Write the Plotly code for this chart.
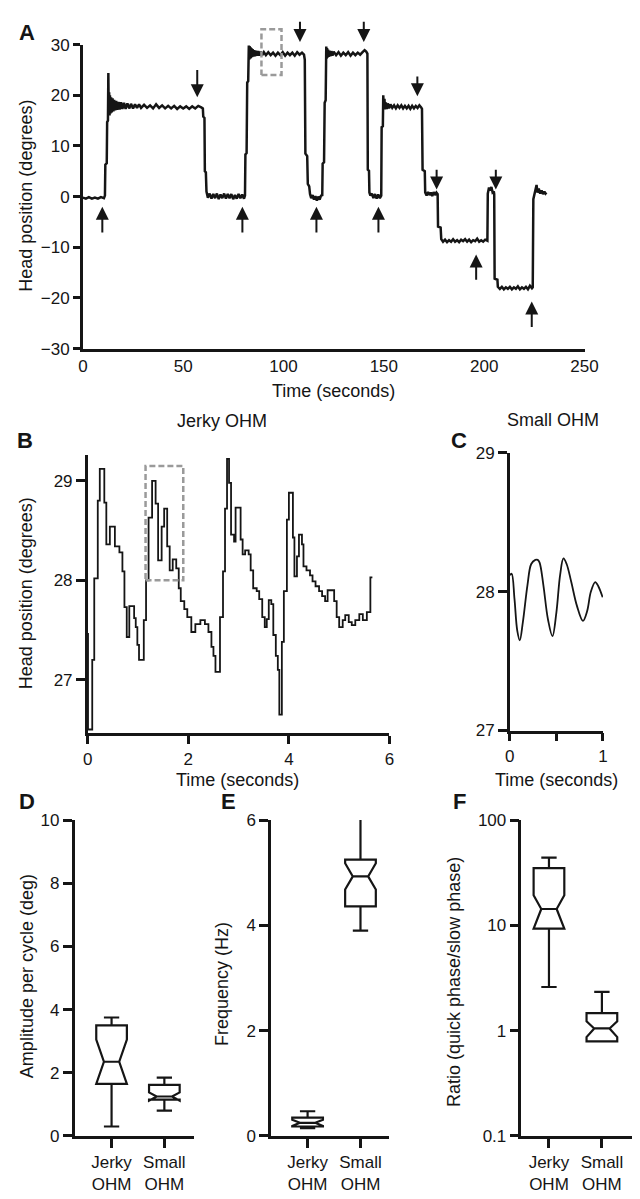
import plotly.graph_objects as go

W, H = 640, 1199

# ---------------- DATA ----------------
# Panel A: head position trace (time s, degrees)
a_t = [0, 1.5, 3, 4.5, 6, 7.5, 9, 10.5, 11.0,
       11.2, 11.9, 12.1, 12.5, 12.7, 12.9, 13.1, 13.3, 13.5, 13.8, 14.1, 14.4, 14.8, 15.2, 15.6, 16.1, 16.6, 17.1,
       17.7, 18.3, 19.0, 19.7, 20.5, 21.3, 22.2, 23.1, 24.0, 25.0, 26.0, 27.0, 28.0, 29.0,
       30.5, 32, 33.5, 35, 36.5, 38, 39.5, 41, 42.5, 44, 45.5, 47, 48.5, 50, 51.5, 53, 54.5, 56, 57.5, 59.0, 59.8,
       60.0, 60.6, 60.8, 61.3, 61.6,
       62.3, 63.2, 64.1, 65.0, 65.9, 66.8, 67.7, 68.6, 69.5, 70.4, 71.3, 72.2, 73.1, 74.0, 74.9, 75.8, 76.7, 77.6,
       78.5, 79.4, 80.3, 80.8,
       81.0, 81.6, 81.9, 82.4, 82.7, 82.9, 83.1, 83.3, 83.5, 83.7, 84.0, 84.3, 84.6, 85.0, 85.4, 85.8, 86.3, 86.8,
       87.4, 88.0, 88.7, 89.4, 90.2,
       91.2, 92.4, 93.6, 94.8, 96.0, 97.2, 98.4, 99.6, 100.8, 102.0, 103.2, 104.4, 105.6, 106.8, 108.0, 109.2, 110.2,
       110.6, 110.9, 111.8, 112.1, 112.8, 113.2,
       113.8, 114.5, 115.2, 115.9, 116.6, 117.3, 118.0, 118.7, 119.3,
       119.5, 120.2, 120.5, 121.0, 121.3, 121.5, 121.7, 121.9, 122.2, 122.5, 122.9, 123.3, 123.8, 124.4, 125.0,
       126.2, 127.4, 128.6, 129.8, 131.0, 132.2, 133.4, 134.6, 135.8, 137.0, 138.2, 139.4, 140.4, 141.2, 141.8,
       142.0, 142.6, 142.8, 143.3,
       144.0, 144.8, 145.6, 146.4, 147.2, 148.0, 148.7,
       148.9, 149.5, 149.7, 150.0, 150.3, 150.6, 151.0, 151.5, 152.0, 152.6, 153.3,
       154.2, 155.1, 156.0, 156.9, 157.8, 158.7, 159.6, 160.5, 161.4, 162.3, 163.2, 164.1, 165.0, 165.9, 166.8,
       167.7, 168.6, 169.0,
       169.3, 170.4, 170.6,
       171.3, 172.0, 172.7, 173.4, 174.1, 174.8, 175.5, 176.2, 176.8,
       177.0, 178.3, 178.6,
       179.5, 180.5, 181.5, 182.5, 183.5, 184.5, 185.5, 186.5, 187.5, 188.5, 189.5, 190.5, 191.5, 192.5, 193.5,
       194.5, 195.5, 196.5, 197.5, 198.5, 199.5, 200.5, 201.6,
       201.8, 202.4, 203.0, 203.6, 204.2, 204.8, 205.0,
       205.2, 206.6, 206.8,
       207.8, 208.8, 209.8, 210.8, 211.8, 212.8, 213.8, 214.8, 215.8, 216.8, 217.8, 218.8, 219.8, 220.8, 221.8,
       222.8, 223.8, 224.2,
       224.5, 225.0, 225.5, 226.1, 226.6, 227.2, 227.9, 228.6, 229.3, 230.0, 230.6, 231.0]
a_deg = [-0.2, -0.4, -0.1, -0.4, -0.2, -0.4, -0.1, -0.3, 0.2,
         6.3, 6.6, 14.7, 15.0, 24.4, 16.2, 20.6, 16.0, 20.0, 16.4, 19.6, 16.6, 19.4, 16.8, 19.1, 17.0, 18.9, 17.1,
         18.7, 17.2, 18.6, 17.3, 18.5, 17.3, 18.4, 17.4, 18.3, 17.4, 18.2, 17.5, 18.2, 17.5,
         18.1, 17.5, 18.0, 17.4, 18.2, 17.5, 18.0, 17.4, 17.9, 17.4, 17.9, 17.3, 17.8, 17.4, 17.8, 17.3, 17.8, 17.4,
         17.9, 17.6, 17.4,
         15.8, 15.5, 5.0, 4.8, 1.0,
         -0.2, 0.6, -0.4, 0.5, -0.3, 0.6, -0.5, 0.4, -0.3, 0.6, -0.4, 0.5, -0.3, 0.5, -0.5, 0.3, -0.4, 0.5,
         -0.3, 0.4, -0.4, 0.2,
         8.3, 8.6, 22.5, 22.8, 29.8, 27.0, 29.7, 27.2, 29.5, 27.3, 29.3, 27.5, 29.1, 27.6, 28.9, 27.7, 28.8, 27.8,
         28.7, 27.8, 28.6, 27.9, 28.5,
         27.9, 28.5, 27.9, 28.4, 27.8, 28.4, 27.9, 28.5, 27.8, 28.4, 27.9, 28.4, 27.8, 28.5, 28.0, 28.4, 28.0,
         27.0, 8.5, 8.0, 2.5, 2.0, 0.5,
         -0.3, 0.3, -0.6, 0.1, -0.8, 0.0, -0.6, 0.2, 0.3,
         6.5, 6.8, 18.5, 19.0, 29.6, 27.2, 29.3, 27.4, 29.0, 27.6, 28.8, 27.7, 28.7, 27.8, 28.6,
         27.9, 28.5, 27.8, 28.4, 27.9, 28.5, 27.8, 28.4, 27.9, 28.4, 28.0, 28.5, 28.9, 28.6, 28.2,
         5.3, 5.1, 0.8, 0.2,
         0.6, -0.3, 0.5, -0.4, 0.4, -0.3, 0.2,
         13.7, 13.9, 20.0, 17.3, 19.3, 17.2, 18.6, 17.3, 18.4, 17.4, 18.2,
         17.5, 18.0, 17.4, 18.0, 17.5, 18.0, 17.4, 17.9, 17.4, 17.9, 17.3, 17.9, 17.4, 17.9, 17.5,
         18.0, 17.6, 17.3,
         5.3, 5.0, 0.8,
         0.2, 0.9, 0.3, 0.8, 0.1, 0.9, 0.3, 0.8, 0.5,
         -5.9, -6.1, -8.4,
         -8.9, -8.5, -9.0, -8.6, -8.9, -8.4, -8.9, -8.6, -9.0, -8.5, -8.8, -8.4, -8.9, -8.5, -9.0,
         -8.6, -8.8, -8.3, -8.9, -8.6, -8.9, -8.5, -8.7,
         0.6, 1.8, 1.2, 1.9, 0.8, 1.0, 0.5,
         -16.2, -16.4, -17.8,
         -18.2, -17.8, -18.3, -17.9, -18.2, -17.8, -18.3, -17.9, -18.2, -17.7, -18.3, -17.9, -18.2, -17.8, -18.3,
         -17.6, -18.1, -17.9,
         -0.5, 0.6, 1.0, 2.3, 0.8, 1.6, 0.6, 1.2, 0.5, 1.0, 0.6, 0.8]

# Panel A arrows: time, tail (deg), tip (deg)
arrow_up_t = [9.7, 79.5, 116.4, 147.3, 196.0, 223.7]
arrow_up_tail = [-7.4, -7.4, -7.4, -7.4, -16.7, -26.0]
arrow_up_tip = [-2.0, -2.0, -2.0, -2.0, -11.4, -20.7]
arrow_down_t = [57.0, 108.2, 140.0, 166.7, 176.3, 205.8]
arrow_down_tail = [25.3, 34.8, 34.8, 24.0, 5.6, 5.6]
arrow_down_tip = [19.6, 30.5, 30.5, 19.8, 1.4, 1.4]
box_a_t = [89, 99]
box_a_deg = [24, 33]

# Panel B: jerky OHM trace (time s, degrees), step-like
b_trace = [(0.0, 27.46), (0.006, 26.5), (0.09, 27.2), (0.13, 28.02), (0.20, 28.8), (0.24, 29.12),
           (0.33, 28.78), (0.37, 28.36), (0.44, 28.54), (0.54, 28.34), (0.63, 28.28), (0.69, 28.09),
           (0.73, 27.73), (0.776, 27.43), (0.827, 27.74), (0.923, 27.62), (0.955, 27.53), (0.987, 27.35),
           (1.02, 27.2), (1.115, 27.6), (1.16, 28.0), (1.21, 28.63), (1.28, 29.0), (1.35, 28.77),
           (1.40, 28.2), (1.47, 28.54), (1.52, 28.72), (1.58, 28.34), (1.63, 28.1), (1.69, 28.21),
           (1.76, 28.12), (1.81, 27.92), (1.85, 27.79), (1.92, 27.71), (1.98, 27.63), (2.06, 27.48),
           (2.14, 27.56), (2.24, 27.6), (2.33, 27.56), (2.40, 27.48), (2.46, 27.33), (2.50, 27.24),
           (2.54, 27.08), (2.63, 27.63), (2.69, 28.09), (2.73, 28.72), (2.77, 29.22), (2.81, 28.98),
           (2.85, 28.46), (2.91, 28.39), (2.94, 28.73), (3.04, 28.41), (3.08, 28.26), (3.13, 28.3),
           (3.20, 28.26), (3.24, 28.1), (3.29, 27.92), (3.36, 27.89), (3.41, 27.81), (3.47, 27.63),
           (3.52, 27.53), (3.56, 27.61), (3.60, 27.8), (3.65, 27.76), (3.69, 27.45), (3.74, 27.24),
           (3.78, 27.1), (3.81, 26.65), (3.86, 27.38), (3.90, 27.89), (3.96, 28.61), (4.00, 28.88),
           (4.08, 28.43), (4.11, 28.04), (4.16, 28.24), (4.20, 28.46), (4.26, 28.36), (4.29, 28.14),
           (4.35, 28.1), (4.42, 28.05), (4.47, 27.99), (4.53, 27.94), (4.60, 27.89), (4.66, 27.84),
           (4.72, 27.79), (4.77, 27.9), (4.90, 27.79), (4.95, 27.63), (5.00, 27.53), (5.07, 27.6),
           (5.12, 27.65), (5.19, 27.58), (5.25, 27.55), (5.32, 27.6), (5.40, 27.66), (5.47, 27.6),
           (5.55, 27.68), (5.62, 28.03), (5.66, 28.03)]
box_b_t = [1.15, 1.9]
box_b_deg = [28.0, 29.15]

# Panel C: small OHM trace
c_t = [0, 0.02, 0.05, 0.08, 0.107, 0.14, 0.19, 0.23, 0.274, 0.30, 0.32, 0.36, 0.41, 0.458, 0.50, 0.54,
       0.576, 0.61, 0.66, 0.72, 0.785, 0.83, 0.87, 0.917, 0.95, 0.997]
c_deg = [28.12, 28.13, 27.95, 27.72, 27.65, 27.78, 28.05, 28.2, 28.23, 28.23, 28.21, 28.05, 27.8, 27.68,
         27.85, 28.12, 28.24, 28.2, 28.07, 27.9, 27.79, 27.86, 28.0, 28.07, 28.04, 27.96]

# Panels D-F: box statistics [Jerky OHM, Small OHM]
groups = ["Jerky<br>OHM", "Small<br>OHM"]
amp = dict(q1=[1.65, 1.15], med=[2.35, 1.25], q3=[3.5, 1.62], lo=[0.3, 0.8], hi=[3.75, 1.85], notch=[0.7, 0.13])
freq = dict(q1=[0.18, 4.36], med=[0.25, 4.93], q3=[0.35, 5.25], lo=[0.15, 3.9], hi=[0.47, 6.05], notch=[0.06, 0.25])
ratio = dict(q1=[9.3, 0.79], med=[14.3, 1.05], q3=[35, 1.47], lo=[2.6, 0.79], hi=[44, 2.34], notch=[5, 0.18])

# ---------------- LAYOUT HELPERS ----------------
def dx(a, b):
    return [a / W, b / W]

def dy(top, bot):
    return [1 - bot / H, 1 - top / H]

INK = '#151515'
FONT = "Liberation Sans, Arial, sans-serif"
TICK = 17
TITLE = 18

def ax_style(**kw):
    d = dict(showline=True, linecolor=INK, linewidth=2.5, ticks='outside', tickcolor=INK, tickwidth=2.5,
             ticklen=9, showgrid=False, zeroline=False, fixedrange=True,
             tickfont=dict(size=TICK, color=INK, family=FONT))
    d.update(kw)
    return d

fig = go.Figure()

# A
fig.add_trace(go.Scatter(x=a_t, y=a_deg, mode='lines', line=dict(color=INK, width=2.5), xaxis='x', yaxis='y',
                         hoverinfo='skip'))
# A overlay (unclipped region above the axis for the dashed box)
rx = [box_a_t[0], box_a_t[1], box_a_t[1], box_a_t[0], box_a_t[0]]
ry = [box_a_deg[0], box_a_deg[0], box_a_deg[1], box_a_deg[1], box_a_deg[0]]
fig.add_trace(go.Scatter(x=rx, y=ry, mode='lines', line=dict(color='#9a9a9a', width=2.5, dash='6px,3px'),
                         xaxis='x7', yaxis='y7', hoverinfo='skip'))
# B
b_t = [p[0] for p in b_trace]
b_v = [p[1] for p in b_trace]
fig.add_trace(go.Scatter(x=b_t, y=b_v, mode='lines', line=dict(color=INK, width=1.8, shape='hv'),
                         xaxis='x2', yaxis='y2', hoverinfo='skip'))
bx = [box_b_t[0], box_b_t[1], box_b_t[1], box_b_t[0], box_b_t[0]]
by = [box_b_deg[0], box_b_deg[0], box_b_deg[1], box_b_deg[1], box_b_deg[0]]
fig.add_trace(go.Scatter(x=bx, y=by, mode='lines', line=dict(color='#9a9a9a', width=2.5, dash='6px,3px'),
                         xaxis='x2', yaxis='y2', hoverinfo='skip'))
# C
fig.add_trace(go.Scatter(x=c_t, y=c_deg, mode='lines', line=dict(color=INK, width=1.8, shape='spline', smoothing=1.0),
                         xaxis='x3', yaxis='y3', hoverinfo='skip'))

# D, E, F
for stats, xa, ya in [(amp, 'x4', 'y4'), (freq, 'x5', 'y5'), (ratio, 'x6', 'y6')]:
    fig.add_trace(go.Box(x=[0, 1], q1=stats['q1'], median=stats['med'], q3=stats['q3'],
                         lowerfence=stats['lo'], upperfence=stats['hi'], notchspan=stats['notch'],
                         notched=True, notchwidth=0.25, width=0.58, whiskerwidth=0.5,
                         boxpoints=False, fillcolor='white', line=dict(color=INK, width=2.2),
                         xaxis=xa, yaxis=ya, hoverinfo='skip'))

# axis geometry (pixels)
A_x, A_y = (72, 589), (28, 337)
B_x, B_y = (77, 388), (445, 728)
C_x, C_y = (512, 608), (443, 725)
D_x, E_x, F_x = (63.5, 187), (266, 387), (524, 638)
DEF_y = (816, 1137)

a_rng = [-30, 30]
ext_top = a_rng[0] + (a_rng[1] - a_rng[0]) * (A_y[1] - 0) / (A_y[1] - A_y[0])

lay = dict(
    width=W, height=H, margin=dict(l=0, r=0, t=0, b=0), paper_bgcolor='white', plot_bgcolor='rgba(0,0,0,0)',
    showlegend=False, font=dict(family=FONT, size=TICK, color=INK),
    xaxis=ax_style(domain=dx(*A_x), range=[0, 250], tickvals=[0, 50, 100, 150, 200, 250], ticks='',
                   ticklabelstandoff=0, anchor='y'),
    yaxis=ax_style(domain=dy(*A_y), range=a_rng, tickvals=[-30, -20, -10, 0, 10, 20, 30], ticklen=7, anchor='x'),
    xaxis7=dict(domain=dx(*A_x), range=[0, 250], visible=False, anchor='y7', fixedrange=True),
    yaxis7=dict(domain=dy(0, A_y[1]), range=[a_rng[0], ext_top], visible=False, anchor='x7', fixedrange=True),
    xaxis2=ax_style(domain=dx(*B_x), range=[0, 6], tickvals=[0, 2, 4, 6], ticklen=8, anchor='y2'),
    yaxis2=ax_style(domain=dy(*B_y), range=[26.46, 29.26], tickvals=[27, 28, 29], anchor='x2'),
    xaxis3=ax_style(domain=dx(*C_x), range=[0, 1], tickvals=[0, 0.5, 1], ticktext=['0', '', '1'], ticklen=8,
                    anchor='y3'),
    yaxis3=ax_style(domain=dy(*C_y), range=[27, 29], tickvals=[27, 28, 29], anchor='x3'),
    xaxis4=ax_style(domain=dx(*D_x), range=[-0.7, 1.57], tickvals=[0, 1], ticktext=groups, anchor='y4'),
    yaxis4=ax_style(domain=dy(*DEF_y), range=[0, 10], tickvals=[0, 2, 4, 6, 8, 10], anchor='x4'),
    xaxis5=ax_style(domain=dx(*E_x), range=[-0.69, 1.53], tickvals=[0, 1], ticktext=groups, anchor='y5'),
    yaxis5=ax_style(domain=dy(*DEF_y), range=[0, 6], tickvals=[0, 2, 4, 6], anchor='x5'),
    xaxis6=ax_style(domain=dx(*F_x), range=[-0.52, 1.57], tickvals=[0, 1], ticktext=groups, anchor='y6'),
    yaxis6=ax_style(domain=dy(*DEF_y), type='log', range=[-1, 2], tickvals=[0.1, 1, 10, 100],
                    ticktext=['0.1', '1', '10', '100'], anchor='x6'),
)
fig.update_layout(**lay)

ann = []
for t, tail, tip in zip(arrow_up_t + arrow_down_t, arrow_up_tail + arrow_down_tail, arrow_up_tip + arrow_down_tip):
    ann.append(dict(x=t, y=tip, ax=t, ay=tail, xref='x7', yref='y7', axref='x7', ayref='y7', text='',
                    showarrow=True, arrowhead=2, arrowsize=1.3, arrowwidth=2, arrowcolor=INK, standoff=0))

def txt(s, x, y, size=TITLE, bold=False, angle=0):
    return dict(text=('<b>%s</b>' % s) if bold else s, x=x / W, y=1 - y / H, xref='paper', yref='paper',
                showarrow=False, xanchor='center', yanchor='middle', textangle=angle,
                font=dict(size=size, family=FONT, color=INK))

ann += [
    txt('A', 14, 16, 22, True), txt('B', 12, 430, 22, True), txt('C', 460, 430, 22, True),
    txt('D', 14, 797, 22, True), txt('E', 222, 797, 22, True), txt('F', 460, 797, 22, True),
    txt('Head position (degrees)', 14, 182, angle=-90),
    txt('Time (seconds)', 330, 380),
    txt('Jerky OHM', 215, 410), txt('Small OHM', 557, 409),
    txt('Head position (degrees)', 13, 586, angle=-90),
    txt('Time (seconds)', 231, 775), txt('Time (seconds)', 560, 775),
    txt('Amplitude per cycle (deg)', 14, 975, angle=-90),
    txt('Frequency (Hz)', 216, 983, angle=-90),
    txt('Ratio (quick phase/slow phase)', 455, 980, angle=-90),
]
fig.update_layout(annotations=ann)

fig.write_html("out.html")
